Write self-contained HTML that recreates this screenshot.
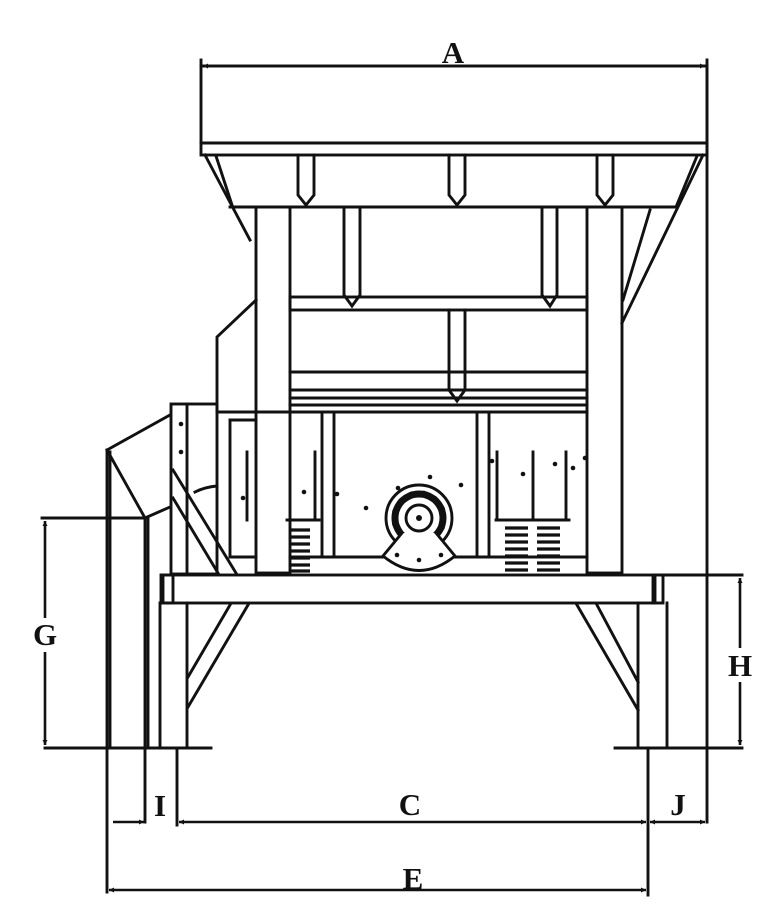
<!DOCTYPE html>
<html><head><meta charset="utf-8"><style>
html,body{margin:0;padding:0;background:#fff;}
svg{display:block}
text{font-family:"Liberation Serif",serif;font-weight:bold;font-size:31px;fill:#111;text-anchor:middle}
</style></head><body>
<svg width="768" height="918" viewBox="0 0 768 918" xmlns="http://www.w3.org/2000/svg">
<defs>
<marker id="ar" viewBox="0 0 10 10" refX="10" refY="5" markerWidth="7" markerHeight="5" orient="auto-start-reverse" markerUnits="userSpaceOnUse" >
<path d="M0,0 L10,5 L0,10 z" fill="#111"/></marker>
</defs>
<g stroke="#111" stroke-width="2.9" fill="none" stroke-linecap="square">
<rect x="201" y="66" width="506" height="77"/>
<rect x="201" y="143" width="506" height="12"/>
<line x1="205" y1="155" x2="250" y2="240"/>
<line x1="216" y1="156" x2="232" y2="205"/>
<line x1="230" y1="207" x2="676" y2="207"/>
<line x1="676" y1="207" x2="697" y2="156"/>
<line x1="703" y1="155" x2="622" y2="323"/>
<line x1="650" y1="210" x2="623" y2="300"/>
<path d="M298 155 V195 L306 205 L314 195 V155"/>
<path d="M449 155 V195 L457 205 L465 195 V155"/>
<path d="M597 155 V195 L605 205 L613 195 V155"/>
<rect x="256" y="207" width="34" height="366"/>
<rect x="587" y="207" width="35" height="366"/>
<path d="M344 207 V295 L352 306 L360 295 V207"/>
<path d="M542 207 V295 L550 306 L557 295 V207"/>
<rect x="290" y="297" width="297" height="13"/>
<path d="M449 310 V390 L457 401 L465 390 V310"/>
<line x1="290" y1="372" x2="587" y2="372"/>
<line x1="290" y1="390" x2="587" y2="390"/>
<line x1="290" y1="398" x2="587" y2="398"/>
<line x1="290" y1="405" x2="587" y2="405"/>
<line x1="217" y1="412" x2="587" y2="412"/>
<line x1="230" y1="420" x2="256" y2="420"/>
<line x1="230" y1="420" x2="230" y2="557"/>
<line x1="230" y1="557" x2="256" y2="557"/>
<line x1="290" y1="557" x2="587" y2="557"/>
<line x1="322" y1="412" x2="322" y2="557"/>
<line x1="334" y1="412" x2="334" y2="557"/>
<line x1="477" y1="412" x2="477" y2="557"/>
<line x1="489" y1="412" x2="489" y2="557"/>
<path d="M256 300 L217 337 V412"/>
<rect x="171" y="404" width="46" height="170"/>
<line x1="187" y1="404" x2="187" y2="574"/>
<path d="M170 415 L107 450 L145 518 L170 507"/>
<line x1="107" y1="450" x2="107" y2="892"/>
<line x1="110" y1="452" x2="110" y2="748"/>
<line x1="145" y1="518" x2="145" y2="822"/>
<line x1="148" y1="518" x2="148" y2="748"/>
<line x1="173" y1="470" x2="236" y2="573"/>
<line x1="173" y1="498" x2="218" y2="573"/>
<path d="M195 492 Q205 487 217 486"/>
<line x1="247" y1="452" x2="247" y2="520"/>
<line x1="315" y1="452" x2="315" y2="520"/>
<line x1="287" y1="520" x2="319" y2="520"/>
<line x1="497" y1="452" x2="497" y2="520"/>
<line x1="533" y1="452" x2="533" y2="520"/>
<line x1="566" y1="452" x2="566" y2="520"/>
<line x1="496" y1="520" x2="569" y2="520"/>
<circle cx="419" cy="518" r="33"/>
<circle cx="419" cy="518" r="24" stroke-dasharray="7 5" stroke-width="7"/>
<circle cx="419" cy="518" r="13" fill="#fff"/>
<path d="M402 533 L383 556 Q419 585 455 556 L436 533" fill="#fff"/>
<rect x="161" y="575" width="494" height="28"/>
<rect x="163" y="575" width="10" height="28"/>
<rect x="653" y="575" width="10" height="28"/>
<line x1="160" y1="603" x2="160" y2="748"/>
<line x1="187" y1="603" x2="187" y2="748"/>
<line x1="230" y1="605" x2="188" y2="677"/>
<line x1="248" y1="605" x2="188" y2="707"/>
<line x1="638" y1="603" x2="638" y2="748"/>
<line x1="667" y1="603" x2="667" y2="748"/>
<line x1="577" y1="605" x2="638" y2="710"/>
<line x1="597" y1="605" x2="638" y2="682"/>
<line x1="45" y1="748" x2="211" y2="748"/>
<line x1="615" y1="748" x2="742" y2="748"/>
<line x1="201" y1="60" x2="201" y2="66"/>
<line x1="707" y1="60" x2="707" y2="822"/>
<line x1="42" y1="518" x2="145" y2="518"/>
<line x1="660" y1="575" x2="742" y2="575"/>
<line x1="177" y1="748" x2="177" y2="825"/>
<line x1="648" y1="748" x2="648" y2="895"/>
</g>
<g stroke="#111" stroke-width="2.6" fill="none">
<line x1="203" y1="66" x2="705" y2="66" marker-start="url(#ar)" marker-end="url(#ar)"/>
<line x1="45" y1="521" x2="45" y2="618" marker-start="url(#ar)"/>
<line x1="45" y1="652" x2="45" y2="745" marker-end="url(#ar)"/>
<line x1="740" y1="578" x2="740" y2="648" marker-start="url(#ar)"/>
<line x1="740" y1="682" x2="740" y2="745" marker-end="url(#ar)"/>
<line x1="113" y1="822" x2="144" y2="822" marker-end="url(#ar)"/>
<line x1="179" y1="822" x2="646" y2="822" marker-start="url(#ar)" marker-end="url(#ar)"/>
<line x1="650" y1="822" x2="705" y2="822" marker-start="url(#ar)" marker-end="url(#ar)"/>
<line x1="109" y1="890" x2="646" y2="890" marker-start="url(#ar)" marker-end="url(#ar)"/>
</g>
<g fill="#111">
<circle cx="181" cy="424" r="2.3"/><circle cx="181" cy="452" r="2.3"/>
<circle cx="243" cy="498" r="2.3"/><circle cx="304" cy="492" r="2.3"/><circle cx="337" cy="494" r="2.3"/>
<circle cx="366" cy="508" r="2.3"/><circle cx="398" cy="488" r="2.3"/><circle cx="430" cy="477" r="2.3"/>
<circle cx="461" cy="485" r="2.3"/><circle cx="492" cy="461" r="2.3"/><circle cx="523" cy="474" r="2.3"/>
<circle cx="555" cy="464" r="2.3"/><circle cx="573" cy="468" r="2.3"/><circle cx="585" cy="458" r="2.3"/>
<circle cx="419" cy="518" r="3"/><circle cx="397" cy="555" r="2.3"/><circle cx="419" cy="560" r="2.3"/><circle cx="441" cy="555" r="2.3"/>
</g>
<g stroke="#111" stroke-width="3.2">
<path d="M290 530 h20 M290 537 h20 M290 544 h20 M290 551 h20 M290 558 h20 M290 565 h20 M290 571 h20"/>
<path d="M505 528 h23 M505 535 h23 M505 542 h23 M505 549 h23 M505 556 h23 M505 563 h23 M505 570 h23"/>
<path d="M537 528 h23 M537 535 h23 M537 542 h23 M537 549 h23 M537 556 h23 M537 563 h23 M537 570 h23"/>
</g>
<rect x="435" y="36" width="36" height="28" fill="#fff"/>
<text x="453" y="63">A</text>
<text x="45" y="645">G</text>
<text x="740" y="676">H</text>
<text x="160" y="816">I</text>
<text x="410" y="815">C</text>
<text x="678" y="815">J</text>
<text x="413" y="889">E</text>
</svg>
</body></html>
